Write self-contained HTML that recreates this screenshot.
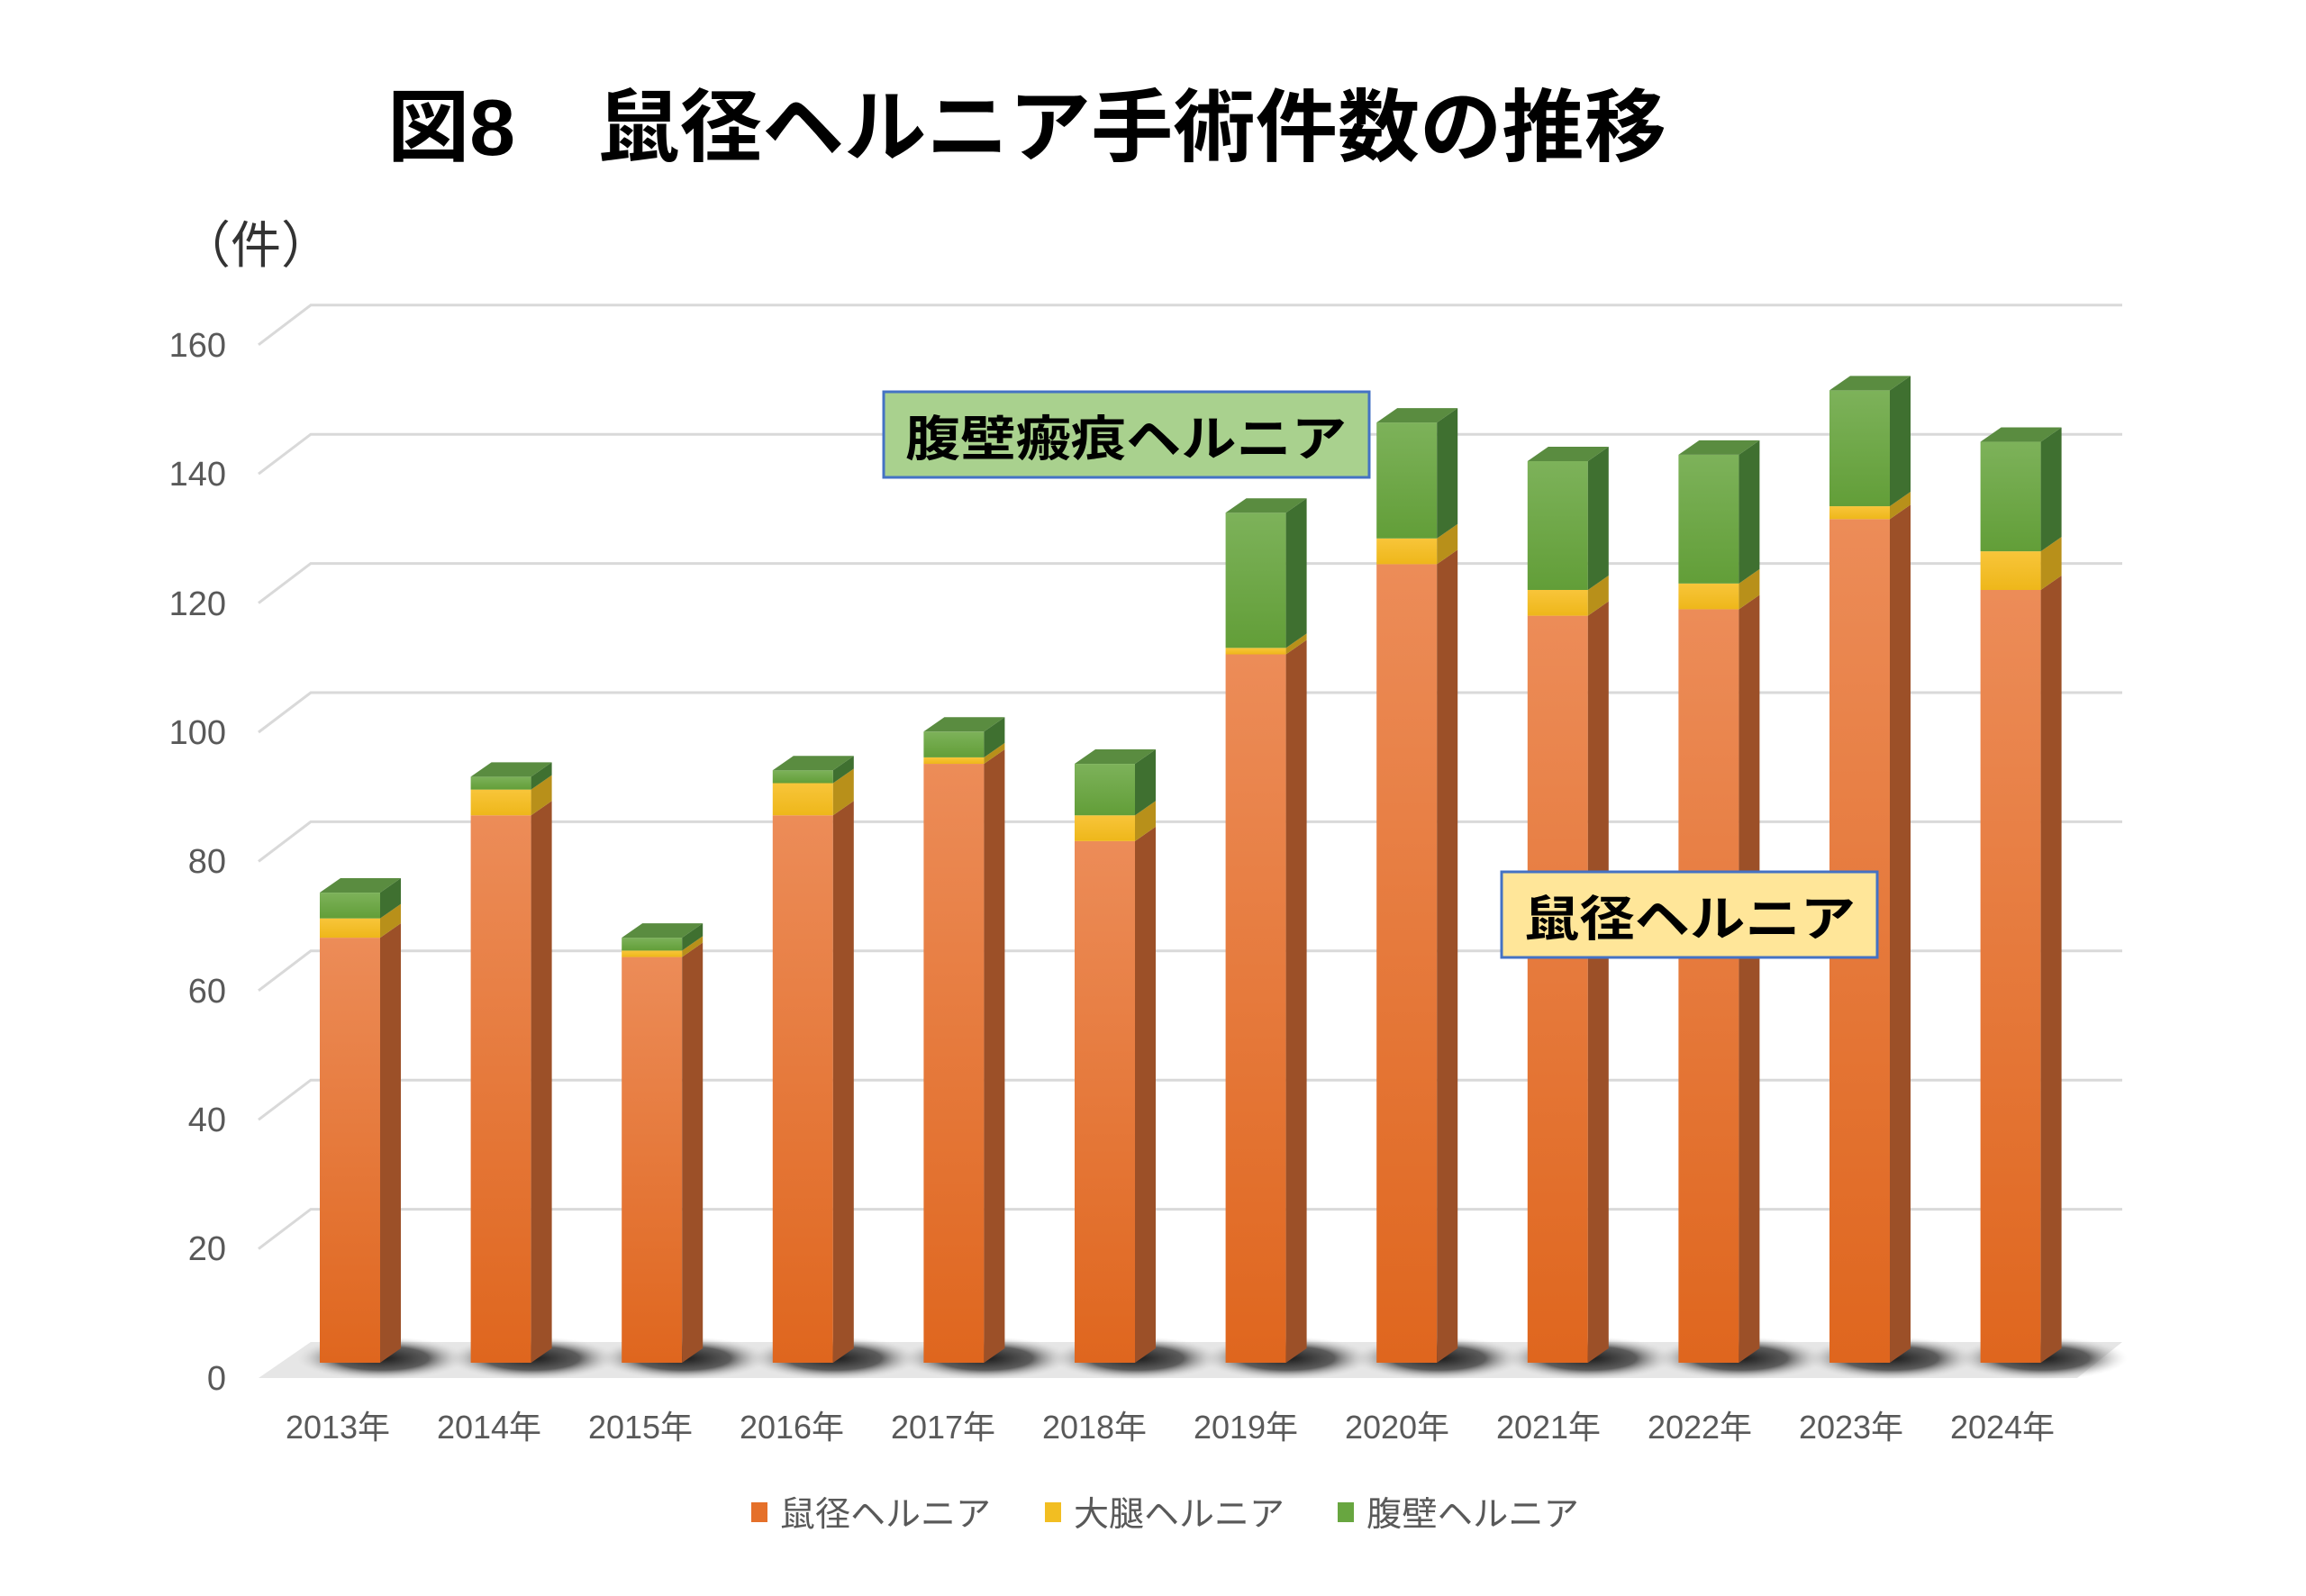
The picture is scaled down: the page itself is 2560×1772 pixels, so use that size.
<!DOCTYPE html>
<html><head><meta charset="utf-8"><style>
html,body{margin:0;padding:0;background:#fff;}
svg{display:block;}
text{font-family:"Liberation Sans","Noto Sans CJK JP",sans-serif;}
</style></head><body>
<svg id="s" width="2560" height="1772" viewBox="0 0 2560 1772" xmlns="http://www.w3.org/2000/svg">
<defs>
<linearGradient id="gO" x1="0" y1="0" x2="0" y2="1"><stop offset="0" stop-color="#ec8c58"/><stop offset="1" stop-color="#df661e"/></linearGradient>
<linearGradient id="gY" x1="0" y1="0" x2="0" y2="1"><stop offset="0" stop-color="#f8c53a"/><stop offset="1" stop-color="#eeb71a"/></linearGradient>
<linearGradient id="gG" x1="0" y1="0" x2="0" y2="1"><stop offset="0" stop-color="#7db25a"/><stop offset="1" stop-color="#629e38"/></linearGradient>
<radialGradient id="sh" cx="0.5" cy="0.5" r="0.5"><stop offset="0" stop-color="#1a1a1a"/><stop offset="0.55" stop-color="#444" stop-opacity="0.85"/><stop offset="1" stop-color="#ddd" stop-opacity="0"/></radialGradient>
</defs>
<text x="430" y="172" font-size="88" font-weight="bold" fill="#000" textLength="1420" lengthAdjust="spacingAndGlyphs">図8　鼠径ヘルニア手術件数の推移</text>
<text x="200" y="292" font-size="56" fill="#333">（件）</text>
<g id="grid" stroke="#d9d9d9" stroke-width="3" fill="none"></g>
<g font-size="38" fill="#595959" text-anchor="end">
<text x="251" y="396">160</text><text x="251" y="539">140</text><text x="251" y="683">120</text><text x="251" y="826">100</text><text x="251" y="969">80</text><text x="251" y="1113">60</text><text x="251" y="1256">40</text><text x="251" y="1399">20</text><text x="251" y="1543">0</text>
</g>
<polygon points="287,1530 2306,1530 2356,1490 345,1490" fill="#e6e6e6"/>
<g id="shadows"></g>
<g id="bars"></g>
<g font-size="36" fill="#595959" text-anchor="middle">
<text x="375" y="1597">2013年</text><text x="543" y="1597">2014年</text><text x="711" y="1597">2015年</text><text x="879" y="1597">2016年</text><text x="1047" y="1597">2017年</text><text x="1215" y="1597">2018年</text><text x="1383" y="1597">2019年</text><text x="1551" y="1597">2020年</text><text x="1719" y="1597">2021年</text><text x="1887" y="1597">2022年</text><text x="2055" y="1597">2023年</text><text x="2223" y="1597">2024年</text>
</g>
<rect x="981" y="435" width="539" height="95" fill="#a9d18e" stroke="#4472c4" stroke-width="3"/>
<text x="1005" y="506" font-size="54" font-weight="bold" fill="#000" textLength="490" lengthAdjust="spacingAndGlyphs">腹壁瘢痕ヘルニア</text>
<rect x="1667" y="968" width="417" height="95" fill="#ffe699" stroke="#4472c4" stroke-width="3"/>
<text x="1692" y="1039" font-size="54" font-weight="bold" fill="#000" textLength="368" lengthAdjust="spacingAndGlyphs">鼠径ヘルニア</text>
<rect x="834" y="1668" width="18" height="22" fill="#e5702a"/>
<text x="866" y="1694" font-size="38" fill="#595959" textLength="234" lengthAdjust="spacingAndGlyphs">鼠径ヘルニア</text>
<rect x="1160" y="1668" width="18" height="22" fill="#f2be22"/>
<text x="1192" y="1694" font-size="38" fill="#595959" textLength="234" lengthAdjust="spacingAndGlyphs">大腿ヘルニア</text>
<rect x="1485" y="1668" width="18" height="22" fill="#68a640"/>
<text x="1517" y="1694" font-size="38" fill="#595959" textLength="236" lengthAdjust="spacingAndGlyphs">腹壁ヘルニア</text>
</svg>
<script>
var NS="http://www.w3.org/2000/svg";
function el(p,t,a){var e=document.createElementNS(NS,t);for(var k in a)e.setAttribute(k,a[k]);p.appendChild(e);return e;}
var grid=document.getElementById('grid');
for(var v=20;v<=160;v+=20){var yb=1486-v*7.17,yf=yb+44;
el(grid,'polyline',{points:"287,"+yf+" 345,"+yb+" 2356,"+yb});}
var d=[[66,3,4],[85,4,2],[63,1,2],[85,5,2],[93,1,4],[81,4,8],[110,1,21],[124,4,18],[116,4,20],[117,4,20],[131,2,18],[120,6,17]];
var fr=['url(#gO)','url(#gY)','url(#gG)'],sd=['#9c5028','#b8901a','#3f7030'],tp=['#f0a070','#e0b030','#5a8c40'];
var bars=document.getElementById('bars'),shs=document.getElementById('shadows');
var W=67,DX=23,DY=16,K=7.15,B=1513;
for(var i=0;i<12;i++){var x=355+i*167.6;
el(shs,'ellipse',{cx:x+W/2+35,cy:1508,rx:95,ry:24,fill:'url(#sh)'});
var acc=0;
for(var j=0;j<3;j++){var v0=acc,v1=acc+d[i][j];acc=v1;
var y0=B-v0*K,y1=B-v1*K;
el(bars,'rect',{x:x,y:y1,width:W,height:y0-y1,fill:fr[j]});
el(bars,'polygon',{points:(x+W)+","+y0+" "+(x+W+DX)+","+(y0-DY)+" "+(x+W+DX)+","+(y1-DY)+" "+(x+W)+","+y1,fill:sd[j]});
if(j==2)el(bars,'polygon',{points:x+","+y1+" "+(x+DX)+","+(y1-DY)+" "+(x+W+DX)+","+(y1-DY)+" "+(x+W)+","+y1,fill:tp[j]});
}}
</script>
</body></html>
